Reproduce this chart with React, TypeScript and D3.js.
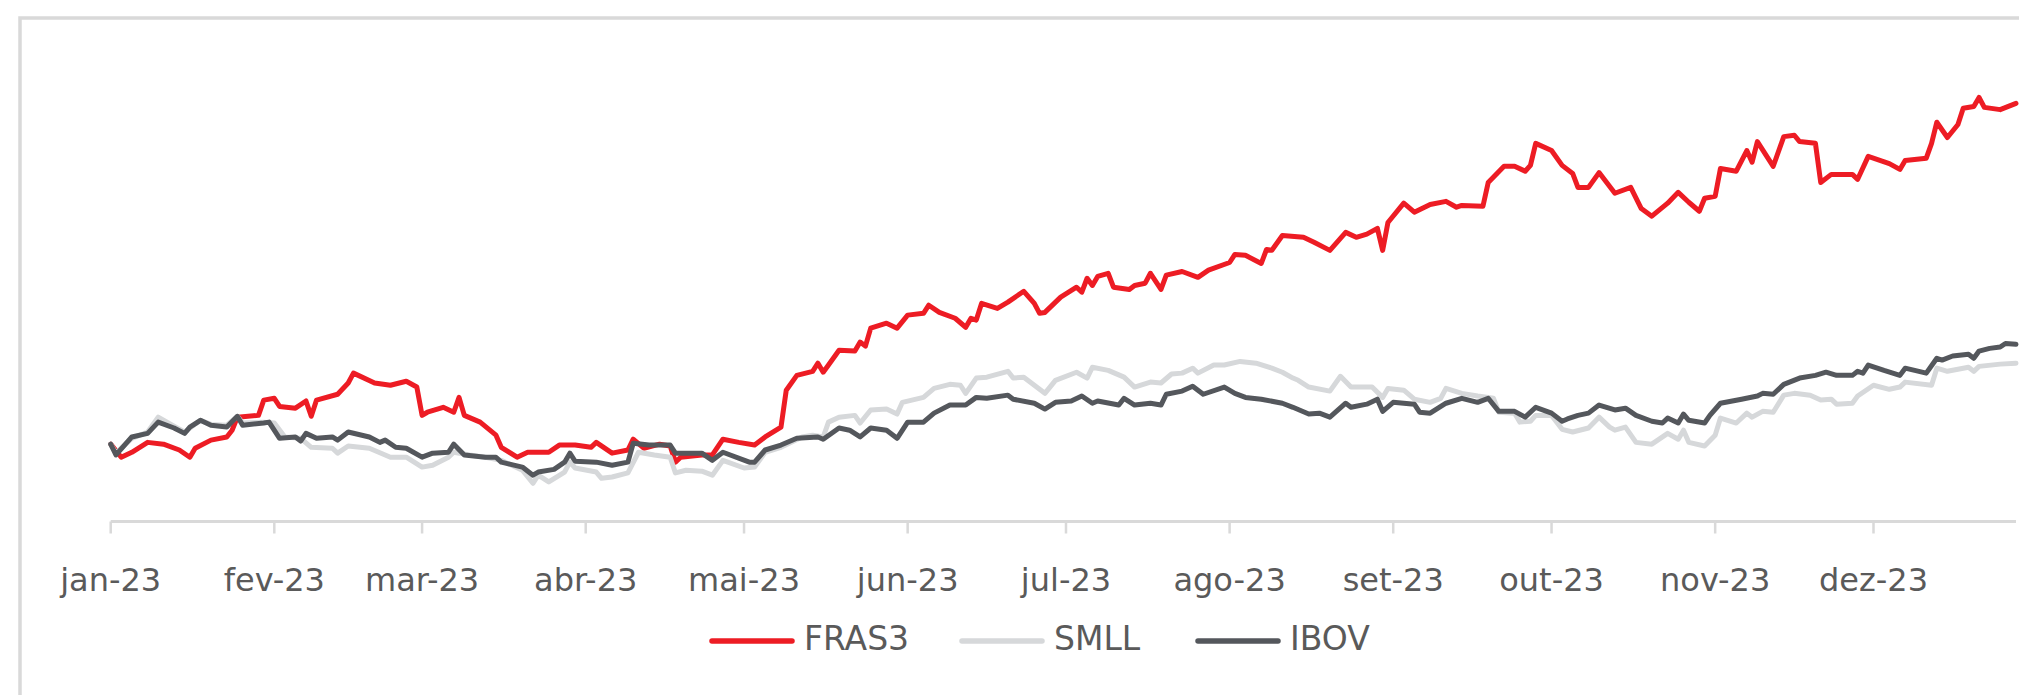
import React from "react";
import * as d3 from "d3";

// day = days since 2023-01-01, value = index (base 100)
const fras3 = [
  [0, 100], [2, 97.1], [4, 98.2], [7, 100.4], [10, 100], [13, 98.7], [15, 97.1], [16, 99.1], [19, 100.9], [22, 101.6],
  [23, 103.1], [24, 106], [28, 106.4], [29, 109.8], [31, 110.2], [32, 108.4], [35, 108], [37, 109.6], [38, 106.2], [39, 109.8],
  [43, 111.1], [45, 113.6], [46, 115.8], [50, 113.6], [53, 113.1], [56, 114], [58, 112.7], [59, 106.4], [60, 107.1], [63, 108.2],
  [65, 107.1], [66, 110.4], [67, 106.4], [70, 104.9], [73, 102], [74, 99.3], [77, 97.1], [79, 98.2], [83, 98.2], [85, 99.8],
  [88, 99.8], [91, 99.3], [92, 100.4], [95, 98], [98, 98.7], [99, 101.1], [101, 99.1], [104, 100], [106, 99.6], [107, 96],
  [108, 97.1], [112, 97.6], [114, 97.6], [116, 101.1], [119, 100.4], [122, 99.8], [124, 101.6], [127, 103.8], [128, 112], [130, 115.3],
  [133, 116.2], [134, 118], [135, 116], [136, 117.6], [138, 120.9], [141, 120.7], [142, 122.7], [143, 121.8], [144, 125.8], [147, 126.9],
  [149, 125.8], [151, 128.7], [154, 129.1], [155, 130.9], [157, 129.3], [160, 128], [162, 126], [163, 128], [164, 127.6], [165, 131.3],
  [168, 130.2], [170, 131.6], [173, 134], [175, 131.3], [176, 129.1], [177, 129.3], [180, 132.7], [183, 134.9], [184, 133.8], [185, 136.9],
  [186, 135.3], [187, 137.3], [189, 138], [190, 134.9], [193, 134.4], [194, 135.3], [196, 135.8], [197, 138], [199, 134.4], [200, 137.6],
  [203, 138.4], [206, 137.1], [208, 138.7], [212, 140.4], [213, 142.2], [215, 142], [218, 140.2], [219, 143.3], [220, 143.1], [222, 146.4],
  [226, 146], [228, 144.9], [231, 143.1], [234, 147.1], [236, 146], [238, 146.7], [240, 148], [241, 143.1], [242, 149.3], [245, 153.6],
  [247, 151.6], [250, 153.3], [253, 154], [255, 152.7], [256, 153.1], [260, 152.9], [261, 158.2], [264, 161.8], [266, 161.8], [268, 160.7],
  [269, 162], [270, 166.9], [273, 165.3], [275, 162], [277, 160.2], [278, 157.1], [280, 157.1], [282, 160.4], [285, 155.8], [288, 157.1],
  [290, 152.4], [292, 150.7], [295, 153.6], [297, 156], [299, 153.8], [301, 151.8], [302, 154.7], [304, 155.1], [305, 161.3], [308, 160.7],
  [310, 165.3], [311, 162.7], [312, 167.3], [315, 161.8], [317, 168.4], [319, 168.7], [320, 167.3], [323, 166.9], [324, 158.2], [326, 160],
  [330, 160], [331, 158.9], [333, 164], [337, 162.4], [339, 161.1], [340, 163.1], [344, 163.6], [345, 166.9], [346, 171.6], [348, 168.2],
  [350, 171.1], [351, 174.7], [353, 175.1], [354, 177.1], [355, 174.9], [358, 174.4], [361, 175.8],
];

const smll = [
  [0, 100], [1, 98], [4, 101.3], [7, 102.7], [9, 106], [12, 104], [14, 102.7], [17, 105.3], [19, 104.4], [22, 104.2],
  [24, 106.2], [25, 104.7], [29, 104.9], [31, 104.7], [33, 101.6], [36, 101.3], [38, 99.3], [42, 99.1], [43, 98], [45, 99.6],
  [49, 99.1], [53, 97.1], [56, 97.1], [59, 94.9], [61, 95.3], [64, 97.1], [65, 98.2], [68, 97.6], [71, 97.1], [74, 96.4],
  [78, 94.2], [80, 91.3], [81, 93.1], [83, 91.6], [86, 93.8], [87, 96], [88, 94.7], [92, 93.8], [93, 92.4], [95, 92.7],
  [98, 93.6], [100, 98.2], [103, 97.6], [106, 97.1], [107, 93.6], [109, 94.2], [112, 94], [114, 93.1], [116, 96.4], [120, 94.7],
  [122, 94.9], [124, 98.2], [127, 99.3], [131, 101.6], [133, 102], [135, 101.6], [136, 104.9], [138, 106], [141, 106.4], [142, 104.7],
  [144, 107.6], [147, 107.8], [149, 106.7], [150, 109.3], [154, 110.4], [156, 112.4], [159, 113.3], [161, 113.1], [162, 111.3], [164, 114.7],
  [166, 114.9], [170, 116.2], [171, 114.7], [173, 114.9], [175, 113.1], [177, 111.3], [179, 114.2], [183, 116], [185, 114.7], [186, 117.1],
  [189, 116.4], [192, 114.9], [194, 112.7], [197, 113.8], [199, 113.6], [201, 115.6], [203, 115.8], [205, 116.9], [206, 115.8], [209, 117.6],
  [211, 117.6], [214, 118.4], [217, 118], [220, 116.9], [222, 116], [224, 114.7], [225, 114.2], [227, 112.7], [231, 111.8], [233, 115.1],
  [235, 112.7], [239, 112.7], [241, 110.4], [242, 112.4], [245, 112], [247, 110], [250, 109.3], [252, 110.2], [253, 112.4], [256, 111.3],
  [259, 110.7], [262, 110.2], [263, 107.1], [266, 106.9], [267, 104.9], [269, 105.1], [270, 106.4], [273, 106.4], [275, 103.3], [277, 102.7],
  [280, 103.6], [282, 106], [284, 103.8], [285, 103.1], [287, 103.8], [289, 100.4], [292, 100], [295, 102.4], [297, 101.1], [298, 103.1],
  [299, 100.4], [302, 99.6], [304, 102], [305, 105.8], [308, 104.7], [310, 106.9], [311, 106], [313, 107.3], [315, 107.1], [317, 110.9],
  [319, 111.3], [322, 110.9], [324, 109.8], [326, 110], [327, 108.9], [330, 109.1], [331, 110.7], [334, 113.1], [337, 112.2], [339, 112.7],
  [340, 113.8], [345, 113.1], [346, 116.9], [348, 116.2], [352, 117.1], [353, 116.2], [354, 117.3], [358, 117.8], [361, 118],
];

const ibov = [
  [0, 100], [1, 97.6], [4, 101.6], [7, 102.4], [9, 104.9], [12, 103.6], [14, 102.4], [15, 103.8], [17, 105.3], [19, 104.2],
  [22, 103.8], [24, 106.2], [25, 104.2], [29, 104.7], [30, 104.9], [32, 101.3], [35, 101.6], [36, 100.7], [37, 102.4], [39, 101.3],
  [42, 101.6], [43, 100.9], [45, 102.7], [49, 101.6], [51, 100.4], [52, 100.9], [54, 99.3], [56, 99.1], [59, 97.1], [61, 98],
  [64, 98.2], [65, 100], [67, 97.6], [71, 97.1], [73, 97.1], [74, 96], [78, 94.9], [80, 93.1], [81, 93.8], [84, 94.4],
  [86, 96], [87, 98], [88, 96.2], [92, 96], [95, 95.3], [98, 96], [99, 100.2], [102, 99.8], [106, 99.8], [107, 98],
  [112, 98], [114, 96.4], [116, 98.2], [121, 96], [122, 96], [124, 98.7], [127, 99.8], [130, 101.3], [134, 101.6], [135, 101.1],
  [138, 103.6], [140, 103.1], [142, 101.6], [144, 103.6], [147, 103.1], [149, 101.3], [151, 104.9], [154, 104.9], [156, 106.9], [159, 108.7],
  [162, 108.7], [164, 110.4], [166, 110.2], [170, 110.9], [171, 110], [175, 109.1], [177, 107.8], [179, 109.3], [182, 109.6], [184, 110.7],
  [186, 109.1], [187, 109.6], [191, 108.7], [192, 110.2], [194, 108.7], [197, 109.1], [199, 108.7], [200, 111.1], [203, 111.8], [205, 112.9],
  [207, 111.1], [211, 112.7], [213, 111.3], [215, 110.4], [218, 110], [222, 109.1], [224, 108.2], [227, 106.7], [229, 106.9], [231, 106],
  [234, 109.1], [235, 108.2], [238, 108.9], [240, 110], [241, 107.3], [243, 109.3], [247, 108.9], [248, 107.1], [250, 106.9], [253, 109.1],
  [256, 110.2], [259, 109.3], [261, 110.2], [263, 107.3], [266, 107.3], [268, 106], [270, 108.2], [273, 106.9], [275, 105.1], [276, 105.6],
  [278, 106.4], [280, 106.9], [282, 108.7], [285, 107.6], [287, 108], [289, 106.4], [292, 105.1], [294, 104.7], [295, 105.8], [297, 104.7],
  [298, 106.7], [299, 105.3], [302, 104.7], [303, 106.4], [305, 109.1], [309, 110], [312, 110.7], [313, 111.3], [315, 111.1], [317, 113.3],
  [320, 114.7], [323, 115.3], [325, 116], [327, 115.3], [330, 115.3], [331, 116.2], [332, 115.8], [333, 117.6], [336, 116.4], [339, 115.3],
  [340, 116.9], [344, 115.8], [346, 119.1], [347, 118.7], [349, 119.6], [352, 120], [353, 119.1], [354, 120.7], [356, 121.3], [358, 121.6],
  [359, 122.4], [361, 122.2],
];

const monthLabels = ["jan-23", "fev-23", "mar-23", "abr-23", "mai-23", "jun-23", "jul-23", "ago-23", "set-23", "out-23", "nov-23", "dez-23"];

const seriesNames = ["FRAS3", "SMLL", "IBOV"];
const seriesColors = ["#ed1c24", "#d6d8da", "#54575c"];

const W = 2019;
const H = 695;
const FONT = "'DejaVu Sans', sans-serif";
const TEXT = "#5a5a5a";
const FRAME = "#d9d9d9";

const day0 = new Date(2023, 0, 1);
const toDate = (d: number) => d3.timeDay.offset(day0, d);

export default function App() {
  const x = d3.scaleTime().domain([day0, toDate(361)]).range([110.7, 2016]);
  const y = d3.scaleLinear().domain([82.8, 195]).range([521.5, 17]);
  const axisY = y(82.8);

  const line = d3
    .line<number[]>()
    .x((d) => x(toDate(d[0])))
    .y((d) => y(d[1]));

  const ticks = d3.timeMonth.range(day0, toDate(362));
  const data = [fras3, smll, ibov];

  // legend layout
  const legendY = 641;
  const legendX = [710, 960, 1196];

  return (
    <svg width={W} height={H} style={{ position: "absolute", left: 0, top: 0, background: "#fff" }}>
      <rect x={0} y={0} width={W} height={H} fill="#fff" />
      <path d={`M20,${H + 5} V18 H${W + 5}`} fill="none" stroke={FRAME} strokeWidth={3.5} />

      <line x1={x(day0)} x2={x(toDate(361))} y1={axisY} y2={axisY} stroke={FRAME} strokeWidth={3} />
      {ticks.map((t, i) => (
        <g key={i} transform={`translate(${x(t)},0)`}>
          <line y1={axisY} y2={axisY + 12} stroke={FRAME} strokeWidth={2.5} />
          <text y={591} textAnchor="middle" fontFamily={FONT} fontSize={32} fill={TEXT}>
            {monthLabels[i]}
          </text>
        </g>
      ))}

      {data.map((s, i) => (
        <path
          key={seriesNames[i]}
          d={line(s) || ""}
          fill="none"
          stroke={seriesColors[i]}
          strokeWidth={5}
          strokeLinejoin="round"
          strokeLinecap="round"
        />
      ))}

      {seriesNames.map((name, i) => (
        <g key={name} transform={`translate(${legendX[i]},${legendY})`}>
          <line x1={2} x2={82} stroke={seriesColors[i]} strokeWidth={5.5} strokeLinecap="round" />
          <text x={94} y={9} fontFamily={FONT} fontSize={33} fill={TEXT}>
            {name}
          </text>
        </g>
      ))}
    </svg>
  );
}
